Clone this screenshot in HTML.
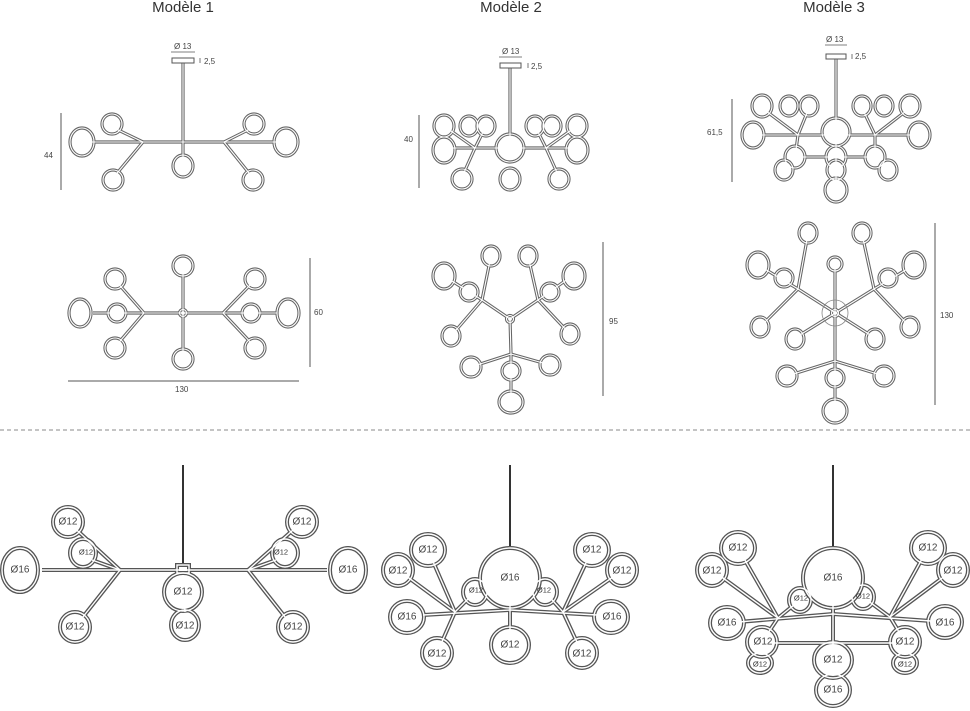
<!DOCTYPE html>
<html><head><meta charset="utf-8"><style>
html,body{margin:0;padding:0;background:#fff;}
svg{display:block;}
text{font-family:"Liberation Sans",sans-serif;fill:#444;}
.t{font-size:15px;fill:#333;}
.s{font-size:8px;}
.l{font-size:10px;text-anchor:middle;dominant-baseline:central;fill:#333;}
.ls{font-size:7.5px;text-anchor:middle;dominant-baseline:central;fill:#333;}
</style></head><body>
<svg width="970" height="711" viewBox="0 0 970 711" xmlns="http://www.w3.org/2000/svg">
<defs>
<!-- Model 1 elevation -->
<g id="a1">
<line x1="183" y1="63" x2="183" y2="142"/>
<line x1="92" y1="142" x2="276" y2="142"/>
<line x1="143" y1="142" x2="112" y2="127"/><line x1="143" y1="142" x2="113" y2="178"/>
<line x1="224" y1="142" x2="254" y2="127"/><line x1="224" y1="142" x2="253" y2="178"/>
<line x1="183" y1="142" x2="183" y2="160"/>
<ellipse cx="82" cy="142" rx="12" ry="14"/><ellipse cx="112" cy="124" rx="10" ry="10"/><ellipse cx="113" cy="180" rx="10" ry="10"/>
<ellipse cx="183" cy="166" rx="10" ry="11"/>
<ellipse cx="286" cy="142" rx="12" ry="14"/><ellipse cx="254" cy="124" rx="10" ry="10"/><ellipse cx="253" cy="180" rx="10" ry="10"/>
</g>
<!-- Model 2 elevation -->
<g id="a2">
<line x1="510" y1="68" x2="510" y2="137"/>
<line x1="450" y1="148" x2="570" y2="148"/>
<line x1="475" y1="148" x2="444" y2="126"/><line x1="475" y1="148" x2="486" y2="126"/><line x1="475" y1="148" x2="462" y2="177"/>
<line x1="546" y1="148" x2="577" y2="126"/><line x1="546" y1="148" x2="535" y2="126"/><line x1="546" y1="148" x2="559" y2="177"/>
<ellipse cx="444" cy="126" rx="10" ry="11"/><ellipse cx="444" cy="150" rx="11" ry="13"/><ellipse cx="469" cy="126" rx="9" ry="10"/><ellipse cx="486" cy="126" rx="9" ry="10"/><ellipse cx="462" cy="179" rx="10" ry="10"/>
<ellipse cx="535" cy="126" rx="9" ry="10"/><ellipse cx="552" cy="126" rx="9" ry="10"/><ellipse cx="577" cy="126" rx="10" ry="11"/><ellipse cx="577" cy="150" rx="11" ry="13"/><ellipse cx="559" cy="179" rx="10" ry="10"/>
<ellipse cx="510" cy="179" rx="10" ry="11"/>
<circle cx="510" cy="148" r="14"/>
</g>
<!-- Model 3 elevation -->
<g id="a3">
<line x1="836" y1="59" x2="836" y2="120"/>
<line x1="762" y1="135" x2="912" y2="135"/>
<line x1="793" y1="157" x2="879" y2="157"/>
<line x1="798" y1="135" x2="762" y2="108"/><line x1="798" y1="135" x2="809" y2="108"/><line x1="798" y1="135" x2="795" y2="157"/>
<line x1="875" y1="135" x2="910" y2="108"/><line x1="875" y1="135" x2="862" y2="108"/><line x1="875" y1="135" x2="875" y2="157"/>
<line x1="836" y1="135" x2="836" y2="188"/>
<ellipse cx="762" cy="106" rx="10" ry="11"/><ellipse cx="789" cy="106" rx="9" ry="10"/><ellipse cx="809" cy="106" rx="9" ry="10"/>
<ellipse cx="862" cy="106" rx="9" ry="10"/><ellipse cx="884" cy="106" rx="9" ry="10"/><ellipse cx="910" cy="106" rx="10" ry="11"/>
<ellipse cx="753" cy="135" rx="11" ry="13"/><ellipse cx="919" cy="135" rx="11" ry="13"/>
<ellipse cx="795" cy="157" rx="10" ry="11"/><ellipse cx="875" cy="157" rx="10" ry="11"/>
<ellipse cx="784" cy="170" rx="9" ry="10"/><ellipse cx="888" cy="170" rx="9" ry="10"/>
<ellipse cx="836" cy="157" rx="10" ry="11"/><ellipse cx="836" cy="170" rx="9" ry="10"/><ellipse cx="836" cy="190" rx="11" ry="12"/>
<circle cx="836" cy="132" r="14"/>
</g>
<!-- Model 1 plan -->
<g id="b1">
<line x1="93" y1="313" x2="277" y2="313"/><line x1="183" y1="268" x2="183" y2="357"/>
<line x1="144" y1="313" x2="115" y2="280"/><line x1="144" y1="313" x2="115" y2="347"/>
<line x1="223" y1="313" x2="255" y2="280"/><line x1="223" y1="313" x2="255" y2="347"/>
<circle cx="117" cy="313" r="9"/><circle cx="251" cy="313" r="9"/>
<ellipse cx="115" cy="279" rx="10" ry="10"/><ellipse cx="115" cy="348" rx="10" ry="10"/>
<ellipse cx="255" cy="279" rx="10" ry="10"/><ellipse cx="255" cy="348" rx="10" ry="10"/>
<ellipse cx="80" cy="313" rx="11" ry="14"/><ellipse cx="288" cy="313" rx="11" ry="14"/>
<ellipse cx="183" cy="266" rx="10" ry="10"/><ellipse cx="183" cy="359" rx="10" ry="10"/>
<circle cx="183" cy="313" r="3.5"/>
</g>
<!-- Model 2 plan -->
<g id="b2">
<line x1="510" y1="319" x2="482" y2="300"/><line x1="510" y1="319" x2="538" y2="300"/><line x1="510" y1="319" x2="511" y2="354"/>
<line x1="482" y1="300" x2="444" y2="276"/><line x1="482" y1="300" x2="491" y2="256"/><line x1="482" y1="300" x2="451" y2="336"/>
<line x1="538" y1="300" x2="572" y2="276"/><line x1="538" y1="300" x2="528" y2="256"/><line x1="538" y1="300" x2="570" y2="334"/>
<line x1="511" y1="354" x2="471" y2="367"/><line x1="511" y1="354" x2="550" y2="365"/><line x1="511" y1="354" x2="511" y2="400"/>
<circle cx="469" cy="292" r="9"/><circle cx="550" cy="292" r="9"/><circle cx="511" cy="371" r="9"/>
<ellipse cx="444" cy="276" rx="11" ry="13"/><ellipse cx="491" cy="256" rx="9" ry="10"/><ellipse cx="451" cy="336" rx="9" ry="10"/>
<ellipse cx="574" cy="276" rx="11" ry="13"/><ellipse cx="528" cy="256" rx="9" ry="10"/><ellipse cx="570" cy="334" rx="9" ry="10"/>
<ellipse cx="471" cy="367" rx="10" ry="10"/><ellipse cx="550" cy="365" rx="10" ry="10"/><ellipse cx="511" cy="402" rx="12" ry="11"/>
<circle cx="510" cy="319" r="3.5"/>
</g>
<!-- Model 3 plan -->
<g id="b3">
<line x1="835" y1="265" x2="835" y2="409"/>
<line x1="798" y1="289" x2="875" y2="338"/><line x1="874" y1="289" x2="795" y2="338"/>
<line x1="798" y1="289" x2="758" y2="265"/><line x1="798" y1="289" x2="808" y2="234"/><line x1="798" y1="289" x2="760" y2="327"/>
<line x1="874" y1="289" x2="914" y2="265"/><line x1="874" y1="289" x2="862" y2="234"/><line x1="874" y1="289" x2="910" y2="327"/>
<line x1="835" y1="361" x2="787" y2="376"/><line x1="835" y1="361" x2="884" y2="376"/>
<circle cx="784" cy="278" r="9"/><circle cx="888" cy="278" r="9"/><circle cx="835" cy="378" r="9"/>
<ellipse cx="758" cy="265" rx="11" ry="13"/><ellipse cx="808" cy="233" rx="9" ry="10"/><ellipse cx="760" cy="327" rx="9" ry="10"/><ellipse cx="795" cy="339" rx="9" ry="10"/>
<ellipse cx="914" cy="265" rx="11" ry="13"/><ellipse cx="862" cy="233" rx="9" ry="10"/><ellipse cx="910" cy="327" rx="9" ry="10"/><ellipse cx="875" cy="339" rx="9" ry="10"/>
<ellipse cx="835" cy="264" rx="7" ry="7"/>
<ellipse cx="787" cy="376" rx="10" ry="10"/><ellipse cx="884" cy="376" rx="10" ry="10"/><ellipse cx="835" cy="411" rx="12" ry="12"/>
<circle cx="835" cy="313" r="3.5"/>
</g>
<!-- Model 1 perspective -->
<g id="c1">
<line x1="42" y1="570" x2="327" y2="570"/>
<line x1="120" y1="570" x2="68" y2="522"/><line x1="120" y1="570" x2="75" y2="627"/><line x1="120" y1="570" x2="92" y2="560"/>
<line x1="248" y1="570" x2="302" y2="522"/><line x1="248" y1="570" x2="293" y2="627"/><line x1="248" y1="570" x2="276" y2="560"/>
<line x1="183" y1="575" x2="185" y2="612"/>
<ellipse cx="83" cy="553" rx="13" ry="14"/><ellipse cx="285" cy="553" rx="13" ry="14"/>
<ellipse cx="68" cy="522" rx="15" ry="15"/><ellipse cx="75" cy="627" rx="15" ry="15"/>
<ellipse cx="302" cy="522" rx="15" ry="15"/><ellipse cx="293" cy="627" rx="15" ry="15"/>
<ellipse cx="20" cy="570" rx="18" ry="22"/><ellipse cx="348" cy="570" rx="18" ry="22"/>
<ellipse cx="185" cy="625" rx="14" ry="15"/>
<ellipse cx="183" cy="592" rx="19" ry="19"/>
<rect x="177" y="565" width="12" height="8"/>
</g>
<!-- Model 2 perspective -->
<g id="c2">
<line x1="423" y1="615" x2="510" y2="610"/><line x1="597" y1="615" x2="510" y2="610"/>
<line x1="455" y1="612" x2="428" y2="550"/><line x1="455" y1="612" x2="398" y2="570"/><line x1="455" y1="612" x2="437" y2="653"/><line x1="455" y1="612" x2="475" y2="592"/>
<line x1="563" y1="612" x2="592" y2="550"/><line x1="563" y1="612" x2="623" y2="570"/><line x1="563" y1="612" x2="582" y2="653"/><line x1="563" y1="612" x2="545" y2="592"/>
<line x1="510" y1="600" x2="510" y2="630"/>
<ellipse cx="475" cy="592" rx="12" ry="13"/><ellipse cx="545" cy="592" rx="12" ry="13"/>
<ellipse cx="428" cy="550" rx="17" ry="16"/><ellipse cx="398" cy="570" rx="15" ry="16"/><ellipse cx="407" cy="617" rx="17" ry="16"/><ellipse cx="437" cy="653" rx="15" ry="15"/>
<ellipse cx="592" cy="550" rx="17" ry="16"/><ellipse cx="622" cy="570" rx="15" ry="16"/><ellipse cx="611" cy="617" rx="17" ry="16"/><ellipse cx="582" cy="653" rx="15" ry="15"/>
<ellipse cx="510" cy="645" rx="19" ry="18"/>
<circle cx="510" cy="578" r="30"/>
</g>
<!-- Model 3 perspective -->
<g id="c3">
<line x1="727" y1="623" x2="833" y2="614"/><line x1="945" y1="622" x2="833" y2="614"/>
<line x1="762" y1="643" x2="905" y2="643"/>
<line x1="778" y1="618" x2="738" y2="548"/><line x1="778" y1="618" x2="712" y2="570"/><line x1="778" y1="618" x2="800" y2="600"/><line x1="778" y1="618" x2="762" y2="642"/>
<line x1="890" y1="617" x2="928" y2="548"/><line x1="890" y1="617" x2="953" y2="570"/><line x1="890" y1="617" x2="863" y2="597"/><line x1="890" y1="617" x2="905" y2="642"/>
<line x1="833" y1="605" x2="833" y2="645"/>
<ellipse cx="800" cy="600" rx="11" ry="12"/><ellipse cx="863" cy="597" rx="11" ry="12"/>
<ellipse cx="738" cy="548" rx="17" ry="16"/><ellipse cx="712" cy="570" rx="15" ry="16"/><ellipse cx="727" cy="623" rx="17" ry="16"/>
<ellipse cx="928" cy="548" rx="17" ry="16"/><ellipse cx="953" cy="570" rx="15" ry="16"/><ellipse cx="945" cy="622" rx="17" ry="16"/>
<ellipse cx="760" cy="663" rx="12" ry="10"/><ellipse cx="905" cy="663" rx="12" ry="10"/>
<ellipse cx="762" cy="642" rx="15" ry="15"/><ellipse cx="905" cy="642" rx="15" ry="15"/>
<ellipse cx="833" cy="690" rx="17" ry="16"/>
<ellipse cx="833" cy="660" rx="19" ry="18"/>
<circle cx="833" cy="578" r="30"/>
</g>
</defs>

<!-- titles -->
<text class="t" x="183" y="12" text-anchor="middle">Modèle 1</text>
<text class="t" x="511" y="12" text-anchor="middle">Modèle 2</text>
<text class="t" x="834" y="12" text-anchor="middle">Modèle 3</text>

<!-- small drawings (double line) -->
<g fill="#fff" stroke="#666" stroke-width="3.2">
<use href="#a1"/><use href="#a2"/><use href="#a3"/><use href="#b1"/><use href="#b2"/><use href="#b3"/>
</g>
<g fill="none" stroke="#fff" stroke-width="1.1">
<use href="#a1"/><use href="#a2"/><use href="#a3"/><use href="#b1"/><use href="#b2"/><use href="#b3"/>
</g>
<circle cx="835" cy="300" r="13" fill="none" stroke="#888" stroke-width="0.8" transform="translate(0,13)"/>

<!-- canopies -->
<g fill="#fff" stroke="#555" stroke-width="1">
<rect x="172" y="58" width="22" height="5"/>
<rect x="500" y="63" width="21" height="5"/>
<rect x="826" y="54" width="20" height="5"/>
</g>
<g stroke="#555" stroke-width="0.8">
<line x1="171" y1="52" x2="195" y2="52"/><line x1="200" y1="58" x2="200" y2="63"/>
<line x1="499" y1="57" x2="522" y2="57"/><line x1="528" y1="63" x2="528" y2="68"/>
<line x1="825" y1="45" x2="847" y2="45"/><line x1="852" y1="54" x2="852" y2="59"/>
</g>
<g class="s">
<text x="174" y="49">Ø 13</text><text x="204" y="64">2,5</text>
<text x="502" y="54">Ø 13</text><text x="531" y="69">2,5</text>
<text x="826" y="42">Ø 13</text><text x="855" y="59">2,5</text>
</g>

<!-- dimension lines -->
<g stroke="#555" stroke-width="1">
<line x1="61" y1="113" x2="61" y2="190"/>
<line x1="419" y1="115" x2="419" y2="188"/>
<line x1="732" y1="99" x2="732" y2="182"/>
<line x1="68" y1="381" x2="299" y2="381"/>
<line x1="310" y1="258" x2="310" y2="367"/>
<line x1="603" y1="242" x2="603" y2="396"/>
<line x1="935" y1="223" x2="935" y2="405"/>
</g>
<g class="s">
<text x="44" y="158">44</text>
<text x="404" y="142">40</text>
<text x="707" y="135">61,5</text>
<text x="175" y="392">130</text>
<text x="314" y="315">60</text>
<text x="609" y="324">95</text>
<text x="940" y="318">130</text>
</g>

<!-- dashed separator -->
<line x1="0" y1="430" x2="970" y2="430" stroke="#888" stroke-width="1" stroke-dasharray="4,3"/>

<!-- rods -->
<g stroke="#333" stroke-width="2">
<line x1="183" y1="465" x2="183" y2="566"/>
<line x1="510" y1="465" x2="510" y2="548"/>
<line x1="833" y1="465" x2="833" y2="548"/>
</g>

<!-- large drawings -->
<g fill="#fff" stroke="#555" stroke-width="4">
<use href="#c1"/><use href="#c2"/><use href="#c3"/>
</g>
<g fill="none" stroke="#fff" stroke-width="1.4">
<use href="#c1"/><use href="#c2"/><use href="#c3"/>
</g>

<!-- labels -->
<g class="l">
<text x="68" y="522">Ø12</text><text x="86" y="552" class="ls">Ø12</text><text x="20" y="570">Ø16</text><text x="75" y="627">Ø12</text>
<text x="302" y="522">Ø12</text><text x="281" y="552" class="ls">Ø12</text><text x="348" y="570">Ø16</text><text x="293" y="627">Ø12</text>
<text x="183" y="592">Ø12</text><text x="185" y="626">Ø12</text>

<text x="510" y="578">Ø16</text>
<text x="428" y="550">Ø12</text><text x="398" y="571">Ø12</text><text x="407" y="617">Ø16</text><text x="437" y="654">Ø12</text>
<text x="592" y="550">Ø12</text><text x="622" y="571">Ø12</text><text x="612" y="617">Ø16</text><text x="582" y="654">Ø12</text>
<text x="510" y="645">Ø12</text>
<text x="476" y="590" class="ls">Ø12</text><text x="544" y="590" class="ls">Ø12</text>

<text x="833" y="578">Ø16</text>
<text x="738" y="548">Ø12</text><text x="712" y="571">Ø12</text><text x="727" y="623">Ø16</text><text x="763" y="642">Ø12</text>
<text x="928" y="548">Ø12</text><text x="953" y="571">Ø12</text><text x="945" y="623">Ø16</text><text x="905" y="642">Ø12</text>
<text x="760" y="664" class="ls">Ø12</text><text x="905" y="664" class="ls">Ø12</text>
<text x="801" y="598" class="ls">Ø12</text><text x="863" y="596" class="ls">Ø12</text>
<text x="833" y="660">Ø12</text><text x="833" y="690">Ø16</text>
</g>
</svg>
</body></html>
